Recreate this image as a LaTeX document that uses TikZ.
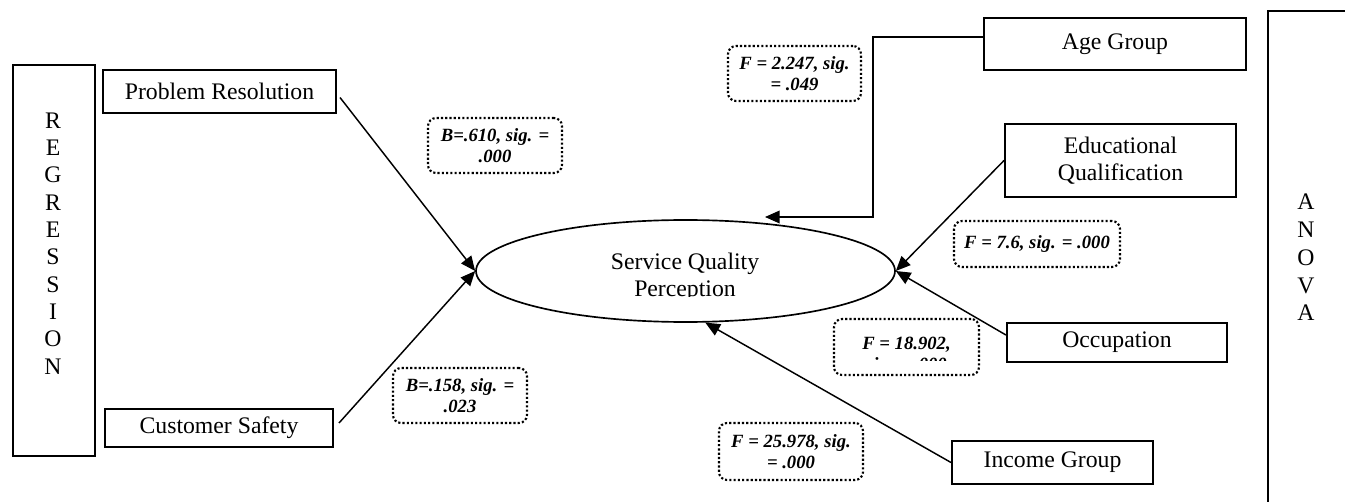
\documentclass[tikz,border=0pt]{standalone}
\usepackage{fontspec}
\setmainfont{Liberation Serif}
\usetikzlibrary{arrows.meta,shapes.geometric}
\begin{document}
\begin{tikzpicture}[x=0.75pt,y=-0.75pt,
  box/.style={draw,line width=1.5pt,inner sep=0pt,align=center,font=\fontsize{17.8}{20.5}\selectfont},
  lab/.style={draw,line width=1.6pt,dash pattern=on 1.6pt off 1.6pt,rounded corners=6pt,inner sep=0pt,align=center,font=\fontsize{14}{15.8}\selectfont\bfseries\itshape},
  labtxt/.style={inner sep=0pt,align=center,font=\fontsize{14}{15.8}\selectfont\bfseries\itshape},
  arr/.style={line width=1.1pt,-{Triangle[length=11pt,width=9.5pt]}},
  txt/.style={inner sep=0pt,align=center,font=\fontsize{17.8}{20.5}\selectfont}]
\useasboundingbox (0,0) rectangle (1345,502);

% side boxes
\node[box,minimum width=61.5pt,minimum height=293.25pt] (reg) at (54,260.5) {};
\node[txt] (regtxt) at (53,243.5) {R\\E\\G\\R\\E\\S\\S\\I\\O\\N};
\node[box,anchor=north west,minimum width=112.5pt,minimum height=412.5pt] (anova) at (1267,10) {};
\node[txt,font=\fontsize{17.8}{20.8}\selectfont] (anovatxt) at (1306,257.5) {A\\N\\O\\V\\A};

% central ellipse
\node[ellipse,draw,line width=1.25pt,minimum width=314.25pt,minimum height=76.5pt,inner sep=0pt] (sqp) at (685.5,271) {};
\begin{scope}
  \clip (560,235) rectangle (810,296);
  \node[txt] (sqptxt) at (685,277) {Service Quality\\Perception};
\end{scope}

% variable boxes
\node[box,minimum width=174.75pt,minimum height=32.25pt] (pr) at (219.5,91.5) {Problem Resolution};
\node[box,minimum width=171pt,minimum height=28.5pt] (cs) at (219,428) {Customer Safety};
\node[box,minimum width=196.5pt,minimum height=39pt] (age) at (1115,44) {Age Group};
\node[box,minimum width=173.25pt,minimum height=54.75pt] (edu) at (1120.5,160.5) {Educational\\Qualification};
\node[box,minimum width=165pt,minimum height=29.25pt] (occ) at (1117,342.5) {Occupation};
\node[box,minimum width=150.75pt,minimum height=32.25pt] (inc) at (1052.5,462.5) {Income Group};

% statistic labels
\node[lab,minimum width=100.5pt,minimum height=41.25pt] (l1) at (495,145.5) {B=.610, sig. =\\.000};
\node[lab,minimum width=100.5pt,minimum height=41.25pt] (l2) at (460,395.5) {B=.158, sig. =\\.023};
\node[lab,minimum width=99.75pt,minimum height=41.25pt] (l3) at (794.5,73.5) {F = 2.247, sig.\\= .049};
\node[lab,minimum width=124.5pt,minimum height=34.5pt] (l4) at (1037,244) {F = 7.6, sig. = .000};
\node[lab,minimum width=108.75pt,minimum height=42pt] (l5) at (906.5,347) {};
\begin{scope}
  \clip (840,322) rectangle (975,360.5);
  \node[labtxt] (l5txt) at (906.5,356) {F = 18.902,\\sig. = .000};
\end{scope}
\node[lab,minimum width=108pt,minimum height=42.75pt] (l6) at (791,451.5) {F = 25.978, sig.\\= .000};

% connectors
\coordinate (agetip) at (765,217);
\draw[arr] ([shift={(3,6)}]pr.east) -- (sqp.west);
\draw[arr] ([shift={(5,-5)}]cs.east) -- (sqp.west);
\draw[arr] ([yshift=5.25pt]age.west) -| (873,217) -- (agetip);
\draw[arr] (edu.west) -- (sqp.east);
\draw[arr] ([yshift=5.6pt]occ.west) -- (sqp.east);
\draw[arr] (inc.west) -- (sqp.-69);
\end{tikzpicture}
\end{document}
